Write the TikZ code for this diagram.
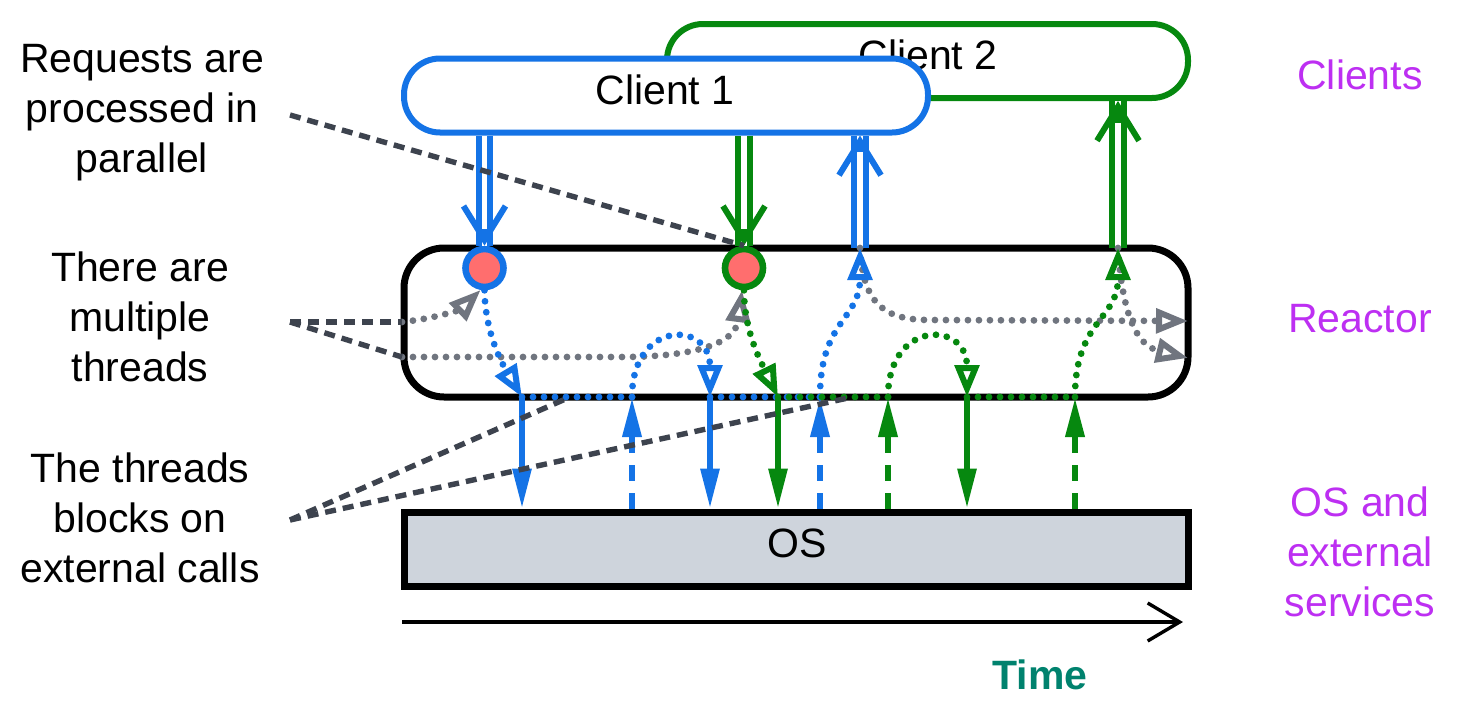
\documentclass[tikz,border=0pt]{standalone}
\usepackage{fontspec}
\setmainfont{Liberation Sans}
\usetikzlibrary{arrows.meta,calc}
\definecolor{cblue}{HTML}{1473E6}
\definecolor{cgreen}{HTML}{06880F}
\definecolor{csalmon}{HTML}{FF6E6E}
\definecolor{cgrey}{HTML}{70757F}
\definecolor{cdash}{HTML}{3D434E}
\definecolor{cpurple}{HTML}{BD2FF2}
\definecolor{cteal}{HTML}{00826E}
\definecolor{cos}{HTML}{CED4DC}
\newcommand\dblarrow[3]{%
  \draw[dblshaft, draw=#1] (#2) -- (#3);
  \draw[dblhead, draw=#1] ($(#2)!0.85!(#3)$) -- (#3);
}
\begin{document}
\begin{tikzpicture}[x=0.5pt,y=-0.5pt,
 txt/.style={font=\fontsize{20.5pt}{25pt}\selectfont, align=center, inner sep=0pt},
 side/.style={txt, text=cpurple},
 client/.style={draw, line width=3pt, fill=white, rounded corners=18pt, minimum height=37pt, inner sep=0pt},
 box/.style={draw=black, line width=3.5pt, inner sep=0pt},
 thread/.style={circle, draw, line width=3.3pt, fill=csalmon, minimum size=19pt, inner sep=0pt},
 dblshaft/.style={double=white, double distance=2.8pt, line width=3pt},
 dblhead/.style={line width=3pt, -{Straight Barb[length=17pt,width=21pt]}},
 call/.style={line width=3pt, -{Triangle[length=20pt,width=9pt]}},
 ret/.style={line width=3.3pt, dash pattern=on 8pt off 6pt, -{Triangle[length=20pt,width=9pt]}},
 dots/.style={line width=3.4pt, line cap=round, dash pattern=on 0pt off 5.5pt},
 dotsarr/.style={dots, -{Triangle[open, length=16pt, width=12pt, line width=3pt]}},
 note/.style={draw=cdash, line width=2.7pt, dash pattern=on 5.5pt off 3.5pt},
]
\path[use as bounding box] (0,0) rectangle (1457,707);

% clients
\node[client, draw=cgreen, minimum width=260.5pt] (cl2) at (927.5,61) {};
\node[txt] (cl2t) at (928,55) {Client 2};
\node[client, draw=cblue, minimum width=262pt] (cl1) at (666,95.5) {};
\node[txt] (cl1t) at (665,90) {Client 1};

% reactor and OS
\node[box, rounded corners=20pt, minimum width=392pt, minimum height=74.5pt] (reactor) at (796,322.5) {};
\node[box, fill=cos, minimum width=392pt, minimum height=37pt] (os) at (796,549) {};
\node[txt] (ost) at (797,543) {OS};

% named points
\coordinate (b1) at (522,397);
\coordinate (u1) at (632,397);
\coordinate (b2) at (710,397);
\coordinate (u2) at (820,397);
\coordinate (b3) at (778,397);
\coordinate (u3) at (888,397);
\coordinate (b4) at (967,397);
\coordinate (u4) at (1075,397);
\coordinate (ru1) at (860,248);
\coordinate (ru2) at (1118,248);
\coordinate (gs1) at (402,322);
\coordinate (gs2) at (402,357);
\coordinate (g3e) at (1188,321);
\coordinate (g4e) at (1188,358);

% threads
\node[thread, draw=cblue] (t1) at (484.5,268) {};
\node[thread, draw=cgreen] (t2) at (744,268) {};

% double arrows
\dblarrow{cblue}{cl1.south -| t1}{t1.north}
\dblarrow{cgreen}{cl1.south -| t2}{t2.north}
\dblarrow{cblue}{ru1}{cl1.south -| ru1}
\dblarrow{cgreen}{ru2}{cl2.south -| ru2}

% grey thread pool paths
\draw[dotsarr, cgrey] (gs1) .. controls (440,318) and (462,308) .. (t1.-100);
\draw[dotsarr, cgrey] (gs2) -- (620,357) .. controls (690,357) and (735,345) .. (t2.-95);
\draw[dotsarr, cgrey] (ru1) .. controls (863,305) and (885,320) .. (930,320) -- (g3e);
\draw[dotsarr, cgrey] (ru2) .. controls (1122,310) and (1135,345) .. (g4e);

% blue thread
\draw[dotsarr, cblue] (t1.south) .. controls (485,330) and (500,360) .. (b1);
\draw[dots, cblue] (b1) -- (u1);
\draw[dotsarr, cblue] (u1) .. controls (632,320) and (710,320) .. (b2);
\draw[dots, cblue] (b2) -- (u2);
\draw[dotsarr, cblue] (u2) .. controls (820,320) and (860,320) .. (ru1);

% green thread
\draw[dotsarr, cgreen] (t2.south) .. controls (744,330) and (760,360) .. (b3);
\draw[dots, cgreen] (b3) -- (u3);
\draw[dotsarr, cgreen] (u3) .. controls (888,320) and (967,320) .. (b4);
\draw[dots, cgreen] (b4) -- (u4);
\draw[dotsarr, cgreen] (u4) .. controls (1075,320) and (1118,320) .. (ru2);

% calls to OS
\draw[call, cblue] (b1) -- (os.north -| b1);
\draw[ret, cblue] (os.north -| u1) -- (u1);
\draw[call, cblue] (b2) -- (os.north -| b2);
\draw[ret, cblue] (os.north -| u2) -- (u2);
\draw[call, cgreen] (b3) -- (os.north -| b3);
\draw[ret, cgreen] (os.north -| u3) -- (u3);
\draw[call, cgreen] (b4) -- (os.north -| b4);
\draw[ret, cgreen] (os.north -| u4) -- (u4);

% time axis
\coordinate (ts) at (402,622);
\coordinate (te) at (1183,622);
\draw[line width=1.7pt, -{Straight Barb[length=16pt,width=19pt]}] (ts) -- (te);
\node[txt, font=\fontsize{20.5pt}{25pt}\selectfont\bfseries, text=cteal] (time) at (1040,675) {Time};

% left notes
\node[txt] (lab1) at (142,113) {Requests are\\processed in\\parallel};
\node[txt] (lab2) at (140,317) {There are\\multiple\\threads};
\node[txt] (lab3) at (140,518) {The threads\\blocks on\\external calls};
\coordinate (n1) at (290,115);
\coordinate (n2) at (290,322);
\coordinate (n3) at (290,520);
\coordinate (e1) at (570,397);
\coordinate (e2) at (848,398);
\draw[note] (n1) -- (t2.north);
\draw[note] (n2) -- (gs1);
\draw[note] (n2) -- (gs2);
\draw[note] (n3) -- (e1);
\draw[note] (n3) -- (e2);

% right labels
\node[side] (sclients) at (1360,75) {Clients};
\node[side] (sreactor) at (1360,319) {Reactor};
\node[side] (sos) at (1360,552) {OS and\\external\\services};
\end{tikzpicture}
\end{document}
